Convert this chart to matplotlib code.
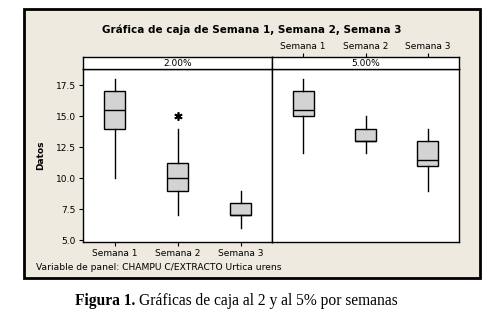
import matplotlib.pyplot as plt
from matplotlib.patches import Rectangle

# datos (Minitab, panel por concentracion)
semanas = ['Semana 1', 'Semana 2', 'Semana 3']
paneles = ['2.00%', '5.00%']

# 2.00%
low_2 = [10, 7, 6]
q1_2 = [14, 9, 7]
med_2 = [15.5, 10, 7]
q3_2 = [17, 11.25, 8]
high_2 = [18, 14, 9]
out_2 = [[], [15], []]

# 5.00%
low_5 = [12, 12, 9]
q1_5 = [15, 13, 11]
med_5 = [15.5, 13, 11.5]
q3_5 = [17, 14, 13]
high_5 = [18, 15, 14]
out_5 = [[], [], []]

yticks = [5.0, 7.5, 10.0, 12.5, 15.0, 17.5]

W, H = 500, 321
fig = plt.figure(figsize=(W / 100, H / 100), dpi=100)
fig.patch.set_facecolor('white')


def box(x0, y0, x1, y1):
    # pixeles (origen arriba-izquierda) -> fraccion de figura
    return [x0 / W, 1 - y1 / H, (x1 - x0) / W, (y1 - y0) / H]


# marco exterior beige (detras de los ejes)
fig.patches.append(Rectangle((24 / W, 1 - 278 / H), 456 / W, 269 / H,
                             transform=fig.transFigure, facecolor='#EEEAE0',
                             edgecolor='black', linewidth=2, zorder=-5))

fig.text(252 / W, 1 - 30 / H, 'Gráfica de caja de Semana 1, Semana 2, Semana 3',
         ha='center', va='center', fontsize=7.5, fontweight='bold')

datos = [(low_2, q1_2, med_2, q3_2, high_2, out_2),
         (low_5, q1_5, med_5, q3_5, high_5, out_5)]
xs = [(83, 272), (272, 459)]

for i, (lo, q1, med, q3, hi, fl) in enumerate(datos):
    x0, x1 = xs[i]
    ax = fig.add_axes(box(x0, 69, x1, 242))
    stats = []
    for j in range(3):
        stats.append({'whislo': lo[j], 'q1': q1[j], 'med': med[j], 'q3': q3[j],
                      'whishi': hi[j], 'fliers': fl[j], 'label': semanas[j]})
    ax.bxp(stats, positions=[1, 2, 3], widths=0.34, patch_artist=True,
           showcaps=False,
           boxprops=dict(facecolor='#D3D3D3', edgecolor='black', linewidth=1),
           medianprops=dict(color='black', linewidth=1),
           whiskerprops=dict(color='black', linewidth=1),
           flierprops=dict(marker=(6, 2, 0), markersize=6, markeredgecolor='black',
                           markeredgewidth=1.2))
    ax.set_xlim(0.5, 3.5)
    ax.set_ylim(4.85, 18.8)
    for s in ax.spines.values():
        s.set_linewidth(1)
    ax.tick_params(labelsize=6.5, length=3, width=0.8, pad=2)

    # tira del panel
    sx = fig.add_axes(box(x0, 57, x1, 69))
    sx.set_xlim(0.5, 3.5)
    sx.set_yticks([])
    sx.set_facecolor('white')
    for s in sx.spines.values():
        s.set_linewidth(1)
    sx.text(0.5, 0.45, paneles[i], ha='center', va='center', fontsize=6.5,
            transform=sx.transAxes)

    if i == 0:
        ax.set_yticks(yticks)
        ax.set_yticklabels(['%.1f' % v for v in yticks])
        ax.set_ylabel('Datos', fontsize=6.5, fontweight='bold', labelpad=8)
        ax.set_xticks([1, 2, 3])
        ax.set_xticklabels(semanas)
        sx.set_xticks([])
    else:
        # en Minitab las etiquetas del segundo panel van arriba
        ax.set_yticks([])
        ax.set_xticks([])
        sx.xaxis.tick_top()
        sx.set_xticks([1, 2, 3])
        sx.set_xticklabels(semanas)
        sx.tick_params(labelsize=6.5, length=3, width=0.8, pad=1)

fig.text(36 / W, 1 - 268 / H, 'Variable de panel: CHAMPU C/EXTRACTO Urtica urens',
         ha='left', va='center', fontsize=6.6)

t1 = fig.text(75 / W, 1 - 301 / H, 'Figura 1.', ha='left', va='center', fontsize=11.2,
              fontweight='bold', family='Liberation Serif')
fig.canvas.draw()
bb = t1.get_window_extent()
fig.text((bb.x1 + 4) / W, 1 - 301 / H, 'Gráficas de caja al 2 y al 5% por semanas',
         ha='left', va='center', fontsize=11.2, family='Liberation Serif')

fig.savefig('out.png', dpi=100)
